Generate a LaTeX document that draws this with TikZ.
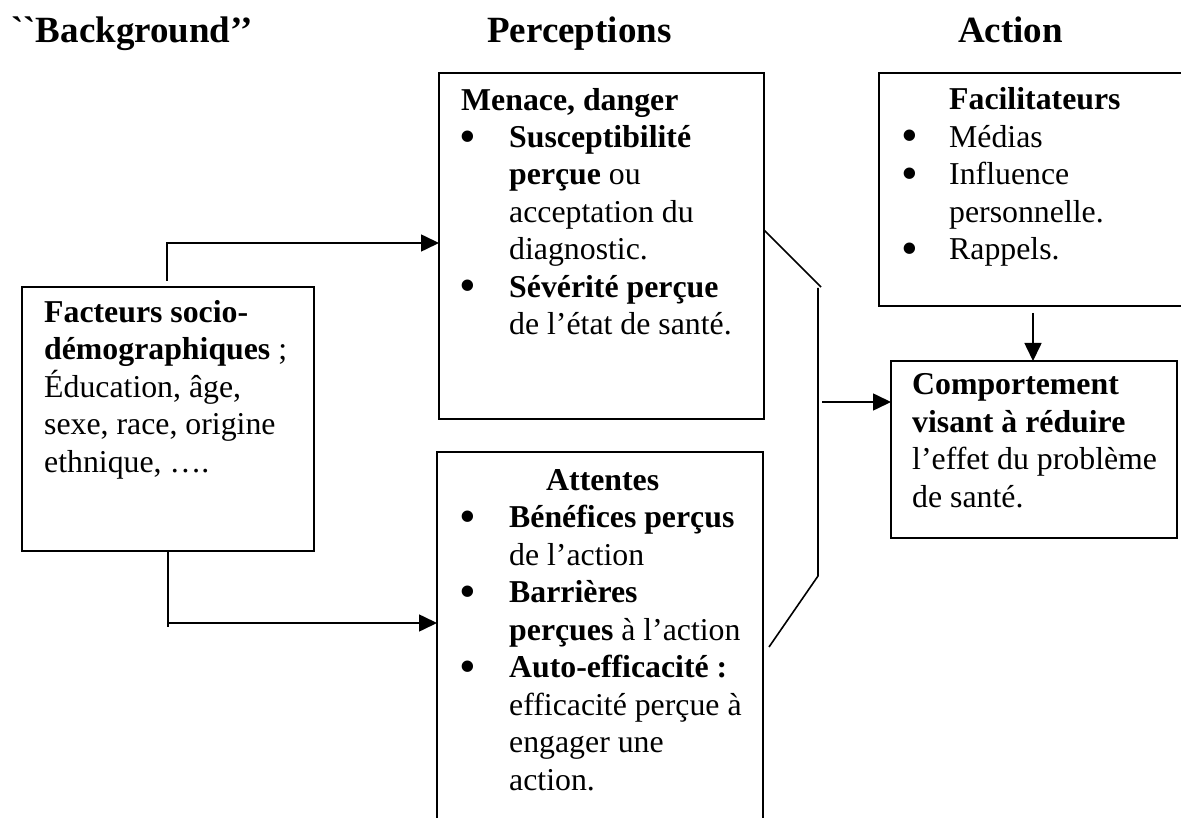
\documentclass[tikz,border=0pt]{standalone}
\usepackage{fontspec}
\setmainfont{Liberation Serif}
\newfontfamily\plainserif{Liberation Serif}
\usetikzlibrary{arrows.meta}
\newcommand\mybul[1]{\makebox[#1][l]{\hspace*{-2pt}\raisebox{-4.5pt}{\scalebox{1.5}{•}}}}
\newcommand\myind[1]{\hspace*{#1}}
\begin{document}
\begin{tikzpicture}[x=1pt,y=-1pt,
  boxx/.style={draw, line width=1.6pt, inner sep=0pt, outer sep=0pt, anchor=north west},
  txt/.style={anchor=base west, align=left, inner sep=0pt, font=\fontsize{31.8}{37.5}\selectfont},
  head/.style={anchor=base west, inner sep=0pt, font=\fontsize{37}{42}\selectfont\bfseries},
  conn/.style={line width=1.6pt},
  arr/.style={line width=1.6pt, -{Triangle[length=18pt,width=17pt]}}]
\useasboundingbox (0,0) rectangle (1181,818);
\clip (0,0) rectangle (1181,818);

% headings
\node[head] (hbg) at (11,43) {\plainserif\bfseries ``Background’’};
\node[head] (hper) at (487,43) {Perceptions};
\node[head] (hact) at (958,43) {Action};

% boxes
\node[boxx, minimum width=292pt, minimum height=264pt] (fact) at (22,287) {};
\node[boxx, minimum width=325pt, minimum height=346pt] (menace) at (439,73) {};
\node[boxx, minimum width=326pt, minimum height=380pt] (attentes) at (437,452) {};
\node[boxx, minimum width=310pt, minimum height=233pt] (facil) at (879,73) {};
\node[boxx, minimum width=286pt, minimum height=177pt] (comp) at (891,361) {};

% texts (anchored at the baseline of their last line)
\node[txt] (tfact) at (44,472) {\textbf{Facteurs socio-}\\
\textbf{démographiques} ;\\
Éducation, âge,\\
sexe, race, origine\\
ethnique, ….};

\node[txt] (tmenace) at (461,335) {\textbf{Menace, danger}\\
\mybul{48pt}\textbf{Susceptibilité}\\
\myind{48pt}\textbf{perçue} ou\\
\myind{48pt}acceptation du\\
\myind{48pt}diagnostic.\\
\mybul{48pt}\textbf{Sévérité perçue}\\
\myind{48pt}de l’état de santé.};

\node[txt] (tatt) at (461,790) {\myind{85pt}\textbf{Attentes}\\
\mybul{48pt}\textbf{Bénéfices perçus}\\
\myind{48pt}de l’action\\
\mybul{48pt}\textbf{Barrières}\\
\myind{48pt}\textbf{perçues} à l’action\\
\mybul{48pt}\textbf{Auto-efficacité :}\\
\myind{48pt}efficacité perçue à\\
\myind{48pt}engager une\\
\myind{48pt}action.};

\node[txt] (tfacil) at (903,260) {\myind{46pt}\textbf{Facilitateurs}\\
\mybul{46pt}Médias\\
\mybul{46pt}Influence\\
\myind{46pt}personnelle.\\
\mybul{46pt}Rappels.};

\node[txt] (tcomp) at (912,507) {\textbf{Comportement}\\
\textbf{visant à réduire}\\
l’effet du problème\\
de santé.};

% connectors
\coordinate (a1) at (167,281);
\coordinate (c1) at (167,243);
\draw[arr] (a1) -- (c1) -- (c1 -| menace.west);

\coordinate (b1) at (168,623);
\coordinate (b2) at (168,627);
\draw[conn] (fact.south -| b1) -- (b2);
\draw[arr] (b1) -- (b1 -| attentes.west);

\coordinate (k0) at (764,230);
\coordinate (k1) at (821,287);
\coordinate (k2) at (818,288);
\coordinate (k3) at (818,576);
\coordinate (k4) at (769,647);
\draw[conn] (k0 -| menace.east) -- (k1);
\draw[conn] (k2) -- (k3) -- (k4);

\coordinate (k5) at (822,402);
\draw[arr] (k5) -- (k5 -| comp.west);

\coordinate (f1) at (1033,313);
\draw[arr] (f1) -- (f1 |- comp.north);
\end{tikzpicture}
\end{document}
